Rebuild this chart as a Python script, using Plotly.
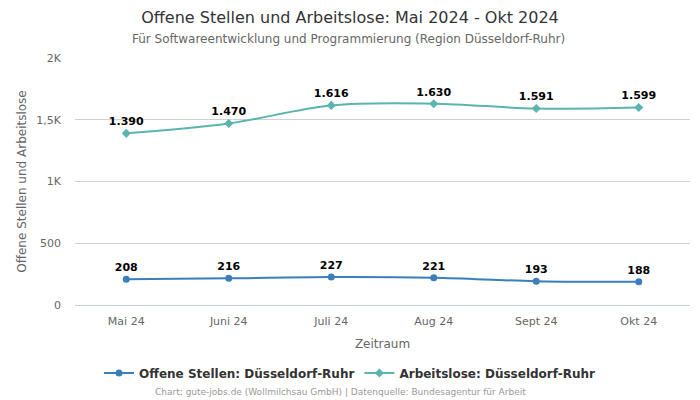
import plotly.graph_objects as go

months = ["Mai 24", "Juni 24", "Juli 24", "Aug 24", "Sept 24", "Okt 24"]
offene = [208, 216, 227, 221, 193, 188]
arbeitslose = [1390, 1470, 1616, 1630, 1591, 1599]
ytick_vals = [0, 500, 1000, 1500, 2000]
ytick_text = ["0", "500", "1K", "1,5K", "2K"]

def fmt(v):
    return f"{v:,}".replace(",", ".")

FONT = "DejaVu Sans"
H = 400
L, R, T, B = 75, 10, 58, 95
PW, PH = 700 - L - R, H - T - B
fig = go.Figure()
fig.add_trace(go.Scatter(
    x=months, y=offene, name="Offene Stellen: Düsseldorf-Ruhr",
    mode="lines+markers+text", line=dict(color="#3a7fba", width=2, shape="spline"),
    marker=dict(symbol="circle", size=7, color="#3a7fba"),
    text=[fmt(v) for v in offene], textposition="top center",
    textfont=dict(family=FONT, size=11, color="#000000", weight="bold"),
))
fig.add_trace(go.Scatter(
    x=months, y=arbeitslose, name="Arbeitslose: Düsseldorf-Ruhr",
    mode="lines+markers+text", line=dict(color="#5bb5ae", width=2, shape="spline"),
    marker=dict(symbol="diamond", size=7, color="#5bb5ae"),
    text=[fmt(v) for v in arbeitslose], textposition="top center",
    textfont=dict(family=FONT, size=11, color="#000000", weight="bold"),
))
fig.update_layout(
    width=700, height=H,
    margin=dict(l=L, r=R, t=T, b=B, autoexpand=False),
    paper_bgcolor="white", plot_bgcolor="white",
    font=dict(family=FONT, color="#666666", size=11),
    title=dict(text="Offene Stellen und Arbeitslose: Mai 2024 - Okt 2024",
               x=0.5, xanchor="center", yref="container", y=1 - 17 / H, yanchor="middle",
               font=dict(family=FONT, size=16, color="#333333")),
    annotations=[
        dict(text="Für Softwareentwicklung und Programmierung (Region Düsseldorf-Ruhr)",
             x=(348 - L) / PW, xref="paper", yref="paper", y=(H - B - 39) / PH,
             xanchor="center", yanchor="middle", showarrow=False,
             font=dict(family=FONT, size=12, color="#666666")),
        dict(text="Chart: gute-jobs.de (Wollmilchsau GmbH) | Datenquelle: Bundesagentur für Arbeit",
             x=(340 - L) / PW, xref="paper", yref="paper", y=(H - B - 392) / PH,
             xanchor="center", yanchor="middle", showarrow=False,
             font=dict(family=FONT, size=9, color="#999999")),
    ],
    xaxis=dict(title=dict(text="Zeitraum", font=dict(size=12, color="#666666"), standoff=12),
               showgrid=False, showline=False, ticks="", range=[-0.5, 5.5],
               ticklabelstandoff=8,
               automargin=False, tickfont=dict(size=11, color="#666666")),
    yaxis=dict(title=dict(text="Offene Stellen und Arbeitslose", font=dict(size=12, color="#666666"),
                          standoff=7),
               range=[0, 2000], tickvals=ytick_vals, ticktext=ytick_text,
               showgrid=True, gridcolor="#d0d0d0", gridwidth=1, zeroline=True,
               zerolinecolor="#c8d0e0", zerolinewidth=1, ticks="", ticklen=0,
               ticklabelstandoff=13,
               automargin=False, tickfont=dict(size=11, color="#666666")),
    legend=dict(orientation="h", xref="container", x=0.5, xanchor="center", yref="container",
                y=1 - 373 / H, yanchor="middle",
                font=dict(family=FONT, size=12, color="#333333", weight="bold")),
    showlegend=True,
)
fig.write_html("out.html", config={"displayModeBar": False},
               post_script="document.body.style.margin='0';document.body.style.overflow='hidden';")
